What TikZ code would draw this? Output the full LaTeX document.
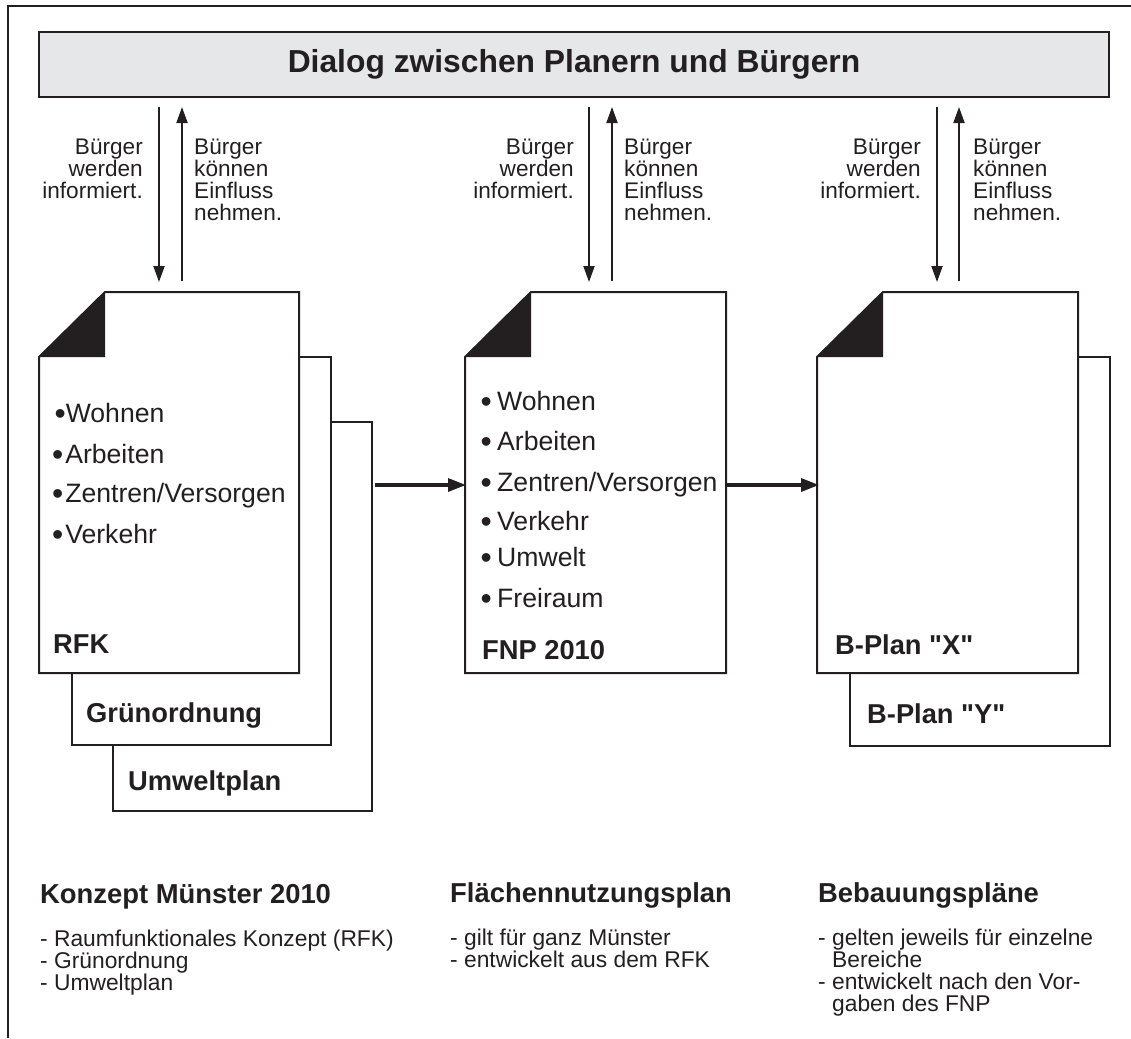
\documentclass[tikz,border=0pt]{standalone}
\usepackage{fontspec}
\setmainfont{Liberation Sans}[Ligatures=TeXOff]
\usetikzlibrary{arrows.meta,calc}
\definecolor{ink}{RGB}{35,31,32}
\definecolor{banner}{RGB}{230,231,232}
% enlarged, slightly lowered list bullet
\newcommand\dotmark{\raisebox{-2pt}{\fontsize{32}{32}\selectfont •}}

\begin{document}
\begin{tikzpicture}[x=1pt,y=-1pt,
  stroke/.style={draw=ink,line width=2pt},
  sheet/.style={stroke,fill=white,inner sep=0pt,outer sep=0pt,anchor=north west},
  page/.style={inner sep=0pt,outer sep=0pt,anchor=north west},
  vlink/.style={draw=ink,line width=1.9pt,-{Triangle[length=16pt,width=11pt]}},
  hlink/.style={draw=ink,line width=3.2pt,-{Triangle[length=18pt,width=13pt]}},
  note/.style={font=\fontsize{22.6}{22}\selectfont,text=ink,inner sep=0pt},
  entry/.style={font=\fontsize{26.6}{30}\selectfont,text=ink,inner sep=0pt,anchor=base west},
  doctitle/.style={font=\fontsize{27.3}{30}\selectfont\bfseries,text=ink,inner sep=0pt,anchor=base west},
  heading/.style={font=\fontsize{27.4}{30}\selectfont\bfseries,text=ink,inner sep=0pt,anchor=base west},
  detail/.style={font=\fontsize{22.8}{22}\selectfont,text=ink,inner sep=0pt,anchor=base west},
]
\useasboundingbox (0,0) rectangle (1131,1038);

% frame (top and left edges)
\draw[stroke] (1131,6) -- (8,6) -- (8,1038);

% banner
\node[stroke,fill=banner,inner sep=0pt,outer sep=0pt,anchor=north west,
      minimum width=1070pt,minimum height=65pt,
      font=\fontsize{31.8}{36}\selectfont\bfseries,text=ink] (title) at (39,32)
      {Dialog zwischen Planern und Bürgern};

% ---- Konzept Münster 2010: stacked sheets ----
\node[sheet,minimum width=259pt,minimum height=389pt] (umw) at (113,422) {};
\node[sheet,minimum width=259pt,minimum height=388pt] (gruen) at (72,357) {};
\node[page,minimum width=260pt,minimum height=381pt] (rfk) at (39,292) {};
\filldraw[stroke,fill=white] ([xshift=66pt]rfk.north west) -- (rfk.north east)
  -- (rfk.south east) -- (rfk.south west) -- ([yshift=-65pt]rfk.north west) -- cycle;
\fill[ink] ([xshift=66pt]rfk.north west) -- ([xshift=66pt,yshift=-65pt]rfk.north west)
  -- ([yshift=-65pt]rfk.north west) -- cycle;

\node[entry] (r1) at (54.4,422) {\dotmark Wohnen};
\node[entry] (r2) at (51.9,463) {\dotmark\hspace{2pt}Arbeiten};
\node[entry] (r3) at (51.9,502) {\dotmark\hspace{2pt}Zentren/Versorgen};
\node[entry] (r4) at (51.9,543) {\dotmark\hspace{2pt}Verkehr};
\node[doctitle] (rfklbl) at (53,653) {RFK};
\node[doctitle] (gruenlbl) at (86,722) {Grünordnung};
\node[doctitle] (umwlbl) at (128,790) {Umweltplan};

% ---- Flächennutzungsplan ----
\node[page,minimum width=261pt,minimum height=381pt] (fnp) at (465,292) {};
\filldraw[stroke,fill=white] ([xshift=66pt]fnp.north west) -- (fnp.north east)
  -- (fnp.south east) -- (fnp.south west) -- ([yshift=-65pt]fnp.north west) -- cycle;
\fill[ink] ([xshift=66pt]fnp.north west) -- ([xshift=66pt,yshift=-65pt]fnp.north west)
  -- ([yshift=-65pt]fnp.north west) -- cycle;

\node[entry] (f1) at (480.4,410) {\dotmark\hspace{5.4pt}Wohnen};
\node[entry] (f2) at (480.4,450) {\dotmark\hspace{5.4pt}Arbeiten};
\node[entry] (f3) at (480.4,491) {\dotmark\hspace{5.4pt}Zentren/Versorgen};
\node[entry] (f4) at (480.4,530) {\dotmark\hspace{5.4pt}Verkehr};
\node[entry] (f5) at (480.4,566) {\dotmark\hspace{5.4pt}Umwelt};
\node[entry] (f6) at (480.4,607) {\dotmark\hspace{5.4pt}Freiraum};
\node[doctitle] (fnplbl) at (482,659) {FNP 2010};

% ---- Bebauungspläne ----
\node[sheet,minimum width=260pt,minimum height=389pt] (by) at (850,357) {};
\node[page,minimum width=261pt,minimum height=381pt] (bx) at (817,292) {};
\filldraw[stroke,fill=white] ([xshift=66pt]bx.north west) -- (bx.north east)
  -- (bx.south east) -- (bx.south west) -- ([yshift=-65pt]bx.north west) -- cycle;
\fill[ink] ([xshift=66pt]bx.north west) -- ([xshift=66pt,yshift=-65pt]bx.north west)
  -- ([yshift=-65pt]bx.north west) -- cycle;
\node[doctitle] (bxlbl) at (835,654) {B-Plan "X"};
\node[doctitle] (bylbl) at (867,723) {B-Plan "Y"};

% ---- dialogue arrows ----
\coordinate (d1) at (159,0); \coordinate (u1) at (182,0);
\coordinate (d2) at (589,0); \coordinate (u2) at (612,0);
\coordinate (d3) at (937,0); \coordinate (u3) at (959,0);
\draw[vlink] ($(title.south -| d1)+(0,10)$) -- ($(rfk.north -| d1)+(0,-10)$);
\draw[vlink] ($(rfk.north -| u1)+(0,-11)$) -- ($(title.south -| u1)+(0,10)$);
\draw[vlink] ($(title.south -| d2)+(0,10)$) -- ($(fnp.north -| d2)+(0,-10)$);
\draw[vlink] ($(fnp.north -| u2)+(0,-11)$) -- ($(title.south -| u2)+(0,10)$);
\draw[vlink] ($(title.south -| d3)+(0,10)$) -- ($(bx.north -| d3)+(0,-10)$);
\draw[vlink] ($(bx.north -| u3)+(0,-11)$) -- ($(title.south -| u3)+(0,10)$);

\node[note,align=right,anchor=north east] (inf1) at (143,139) {Bürger\\werden\\informiert.};
\node[note,align=left,anchor=north west] (inf1b) at (194,139) {Bürger\\können\\Einfluss\\nehmen.};
\node[note,align=right,anchor=north east] (inf2) at (574,139) {Bürger\\werden\\informiert.};
\node[note,align=left,anchor=north west] (inf2b) at (624,139) {Bürger\\können\\Einfluss\\nehmen.};
\node[note,align=right,anchor=north east] (inf3) at (921,139) {Bürger\\werden\\informiert.};
\node[note,align=left,anchor=north west] (inf3b) at (973,139) {Bürger\\können\\Einfluss\\nehmen.};

% ---- flow between plans ----
\coordinate (h) at (0,485);
\draw[hlink] ($(umw.east |- h)+(3,0)$) -- ($(fnp.west |- h)+(1,0)$);
\draw[hlink] ($(fnp.east |- h)+(1,0)$) -- ($(bx.west |- h)+(2,0)$);

% ---- descriptions ----
\node[heading] (k0) at (40,903) {Konzept Münster 2010};
\node[detail] (k1) at (40,946) {- Raumfunktionales Konzept (RFK)};
\node[detail] (k2) at (40,968) {- Grünordnung};
\node[detail] (k3) at (40,990) {- Umweltplan};

\node[heading] (n0) at (450,902) {Flächennutzungsplan};
\node[detail] (n1) at (450,945) {- gilt für ganz Münster};
\node[detail] (n2) at (450,967) {- entwickelt aus dem RFK};

\node[heading] (b0) at (818,902) {Bebauungspläne};
\node[detail] (b1) at (818,945) {- gelten jeweils für einzelne};
\node[detail] (b2) at (832,967) {Bereiche};
\node[detail] (b3) at (818,989) {- entwickelt nach den Vor-};
\node[detail] (b4) at (832,1011) {gaben des FNP};
\end{tikzpicture}
\end{document}
